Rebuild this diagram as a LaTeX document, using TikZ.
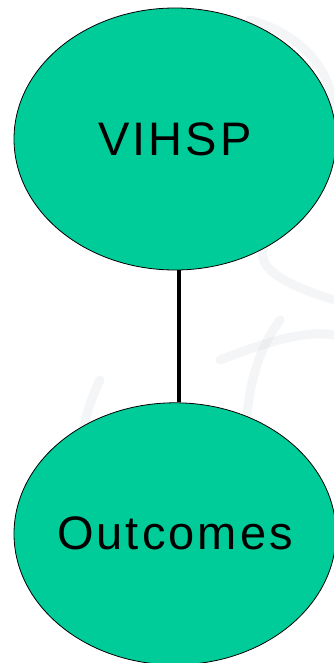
\documentclass[tikz,border=0pt]{standalone}
\usepackage{fontspec}
\setmainfont{Liberation Sans}
\usepackage{tikz}
\usetikzlibrary{positioning,shapes.geometric,backgrounds}
\definecolor{blobgreen}{RGB}{0,204,153}
\definecolor{markgray}{RGB}{200,204,212}
\tikzset{
  % big green "topic" ellipses
  topicblob/.style={ellipse, draw=black, line width=0.8pt, fill=blobgreen,
    minimum width=322pt, minimum height=262pt, inner xsep=-60pt, inner ysep=0pt,
    font=\fontsize{47}{50}\addfontfeatures{LetterSpace=6.5}\selectfont},
  % the plain link between them
  linkln/.style={line width=4.5pt, black},
  % faint watermark strokes behind everything
  markln/.style={line width=9pt, markgray, opacity=0.2, line cap=round},
}

\begin{document}
\begin{tikzpicture}[x=1pt, y=-1pt]
    \useasboundingbox (0,0) rectangle (334,663);
    % faint watermark swirls
    \begin{scope}[on background layer]
      \draw[markln] (250,20) .. controls (320,40) and (340,90) .. (334,140);
      \draw[markln] (300,200) .. controls (250,250) and (240,270) .. (334,300);
      \draw[markln] (100,380) .. controls (80,420) and (75,470) .. (80,520);
      \draw[markln] (280,320) .. controls (250,360) and (240,420) .. (250,480);
      \draw[markln] (220,360) .. controls (270,340) and (310,330) .. (334,335);
    \end{scope}
    % the two topics
    \node[topicblob] (vihsp) at (175,139) {VIHSP};
    \node[topicblob, below=132pt of vihsp] (outcomes) {Outcomes};
    % link
    \draw[linkln] ([xshift=4pt]vihsp.south) -- ([xshift=4pt]outcomes.north);
\end{tikzpicture}
\end{document}
